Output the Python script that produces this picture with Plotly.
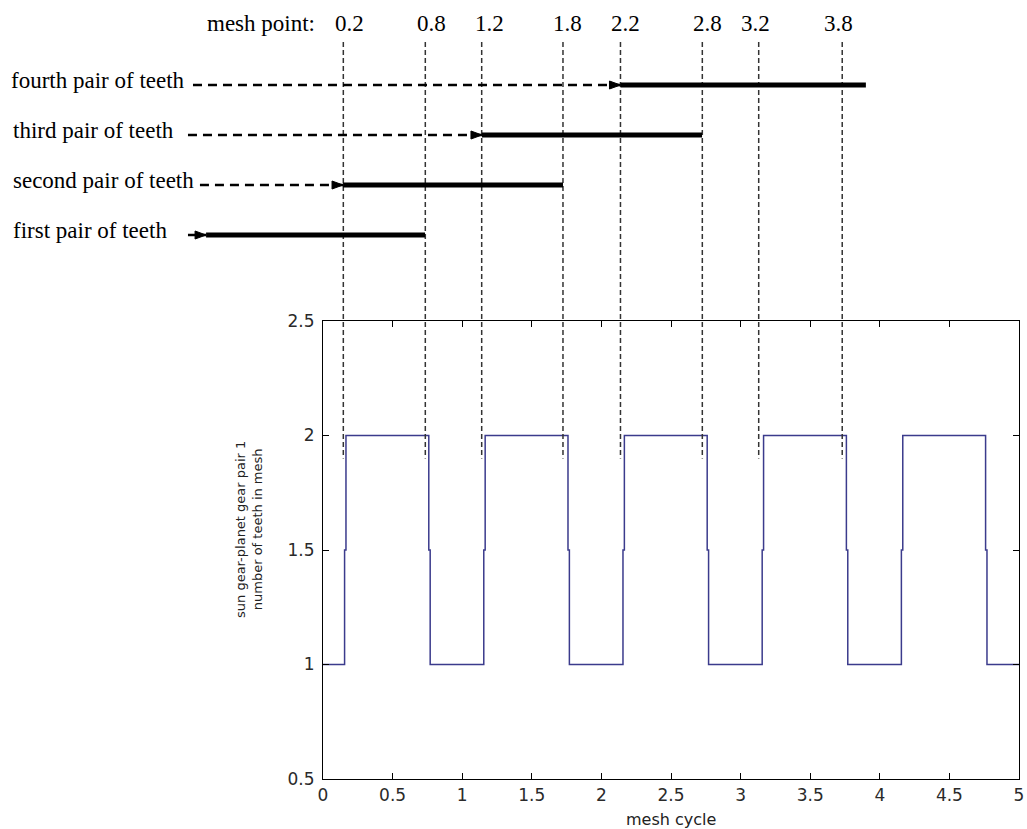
import plotly.graph_objects as go

# ---------------- data ----------------
# main chart: number of teeth in mesh over the mesh cycle (stairs)
mesh_cycle = [0.0, 0.155, 0.165, 0.76, 0.77,
              1.155, 1.165, 1.76, 1.77,
              2.155, 2.165, 2.76, 2.77,
              3.155, 3.165, 3.76, 3.77,
              4.155, 4.165, 4.76, 4.77, 5.0]
teeth_in_mesh = [1, 1.5, 2, 1.5, 1,
                 1.5, 2, 1.5, 1,
                 1.5, 2, 1.5, 1,
                 1.5, 2, 1.5, 1,
                 1.5, 2, 1.5, 1, 1]

x_tick_vals = [0, 0.5, 1, 1.5, 2, 2.5, 3, 3.5, 4, 4.5, 5]
x_tick_text = ["0", "0.5", "1", "1.5", "2", "2.5", "3", "3.5", "4", "4.5", "5"]
y_tick_vals = [0.5, 1, 1.5, 2, 2.5]
y_tick_text = ["0.5", "1", "1.5", "2", "2.5"]

# top diagram: engagement of successive tooth pairs (in mesh-cycle units)
pair_names = ["first pair of teeth", "second pair of teeth",
              "third pair of teeth", "fourth pair of teeth"]
pair_rows = [1, 2, 3, 4]
approach_start = [-0.97, -0.884, -0.97, -0.934]
contact_start = [-0.84, 0.144, 1.142, 2.137]
contact_end = [0.733, 1.724, 2.723, 3.90]

mesh_point_labels = ["0.2", "0.8", "1.2", "1.8", "2.2", "2.8", "3.2", "3.8"]
mesh_point_lines = [0.146, 0.735, 1.14, 1.724, 2.137, 2.725, 3.13, 3.73]
mesh_point_label_x = [0.192, 0.776, 1.193, 1.753, 2.170, 2.762, 3.109, 3.705]

# ---------------- geometry (pixels) ----------------
W, H = 1027, 829
PL, PR, PT, PB = 323, 1019, 321, 779          # main plot area
XMIN, XMAX, YMIN, YMAX = 0, 5, 0.5, 2.5
px_per_x = (PR - PL) / (XMAX - XMIN)
x2_range = [XMIN - PL / px_per_x, XMIN + (W - PL) / px_per_x]

ROW1_PX, ROW_STEP_PX = 235, 50                 # diagram rows


def v_from_px(p):
    return 1 + (ROW1_PX - p) / ROW_STEP_PX


y2_range = [v_from_px(H), v_from_px(0)]


def main_y_to_px(y):
    return PB - (y - YMIN) * (PB - PT) / (YMAX - YMIN)


vline_top = v_from_px(42)
vline_bottom = v_from_px(main_y_to_px(1.9))

serif = "Liberation Serif"
sans = "DejaVu Sans"
SERIF_SIZE = 23

fig = go.Figure()

# main stairs
fig.add_trace(go.Scatter(
    x=mesh_cycle, y=teeth_in_mesh, mode="lines", line_shape="hv",
    line=dict(color="#3b3b8c", width=1.5), xaxis="x", yaxis="y",
    hoverinfo="skip"))

# vertical dashed mesh-point lines
vx, vy = [], []
for m in mesh_point_lines:
    vx += [m, m, None]
    vy += [vline_top, vline_bottom, None]
fig.add_trace(go.Scatter(
    x=vx, y=vy, mode="lines", line=dict(color="#333333", width=1.5, dash="5px,3px"),
    xaxis="x2", yaxis="y2", hoverinfo="skip"))

# dashed approach lines
ax_, ay_ = [], []
for s, c, r in zip(approach_start, contact_start, pair_rows):
    ax_ += [s, c, None]
    ay_ += [r, r, None]
fig.add_trace(go.Scatter(
    x=ax_, y=ay_, mode="lines", line=dict(color="black", width=2.5, dash="9px,6px"),
    xaxis="x2", yaxis="y2", hoverinfo="skip"))

# solid contact bars
bx, by = [], []
for c, e, r in zip(contact_start, contact_end, pair_rows):
    bx += [c, e, None]
    by += [r, r, None]
fig.add_trace(go.Scatter(
    x=bx, y=by, mode="lines", line=dict(color="black", width=5),
    xaxis="x2", yaxis="y2", hoverinfo="skip"))

# arrowheads
HEAD_L, HEAD_H = 11, 4
tx, ty = [], []
for c, r in zip(contact_start, pair_rows):
    dx = HEAD_L / px_per_x
    dy = HEAD_H / ROW_STEP_PX
    tx += [c, c - dx, c - dx, c, None]
    ty += [r, r + dy, r - dy, r, None]
fig.add_trace(go.Scatter(
    x=tx, y=ty, mode="lines", fill="toself", fillcolor="black",
    line=dict(color="black", width=1), xaxis="x2", yaxis="y2", hoverinfo="skip"))

annotations = []
# row labels
label_left_px = [11, 11, 11, 9]
for name, r, lp in zip(pair_names, pair_rows, label_left_px):
    annotations.append(dict(
        text=name, x=lp / W, xref="paper", xanchor="left",
        y=r, yref="y2", yanchor="middle", yshift=5, showarrow=False,
        font=dict(family=serif, size=SERIF_SIZE, color="black")))

# mesh point header
header_v = v_from_px(23)
annotations.append(dict(
    text="mesh point:", x=205 / W, xref="paper", xanchor="left",
    y=header_v, yref="y2", yanchor="middle", showarrow=False,
    font=dict(family=serif, size=SERIF_SIZE, color="black")))
for lab, lx in zip(mesh_point_labels, mesh_point_label_x):
    annotations.append(dict(
        text=lab, x=lx, xref="x2", xanchor="center",
        y=header_v, yref="y2", yanchor="middle", showarrow=False,
        font=dict(family=serif, size=SERIF_SIZE, color="black")))

# axis titles
annotations.append(dict(
    text="mesh cycle", x=(PL + PR) / 2 / W, xref="paper", xanchor="center",
    y=(H - 819) / H, yref="paper", yanchor="middle", showarrow=False,
    font=dict(family=sans, size=16, color="#222222")))
annotations.append(dict(
    text="sun gear-planet gear pair 1<br>number of teeth in mesh",
    textangle=-90, x=249 / W, xref="paper", xanchor="center",
    y=(H - 530) / H, yref="paper", yanchor="middle", showarrow=False,
    font=dict(family=sans, size=13, color="#222222")))

axis_common = dict(
    ticks="inside", ticklen=6, tickwidth=1, tickcolor="black",
    showline=True, linecolor="black", linewidth=1.2, mirror="ticks",
    showgrid=False, zeroline=False, automargin=False, fixedrange=True,
    tickfont=dict(family=sans, size=17, color="#2a2a2a"))

fig.update_layout(
    width=W, height=H,
    margin=dict(l=0, r=0, t=0, b=0, pad=0),
    paper_bgcolor="white", plot_bgcolor="rgba(0,0,0,0)",
    showlegend=False,
    xaxis=dict(domain=[PL / W, PR / W], range=[XMIN, XMAX], anchor="y",
               tickmode="array", tickvals=x_tick_vals, ticktext=x_tick_text,
               ticklabelstandoff=0, **axis_common),
    yaxis=dict(domain=[(H - PB) / H, (H - PT) / H], range=[YMIN, YMAX], anchor="x",
               tickmode="array", tickvals=y_tick_vals, ticktext=y_tick_text,
               ticklabelstandoff=4, **axis_common),
    xaxis2=dict(domain=[0, 1], range=x2_range, anchor="y2", visible=False,
                fixedrange=True),
    yaxis2=dict(domain=[0, 1], range=y2_range, anchor="x2", visible=False,
                fixedrange=True),
    annotations=annotations,
)

fig.write_html("out.html")
